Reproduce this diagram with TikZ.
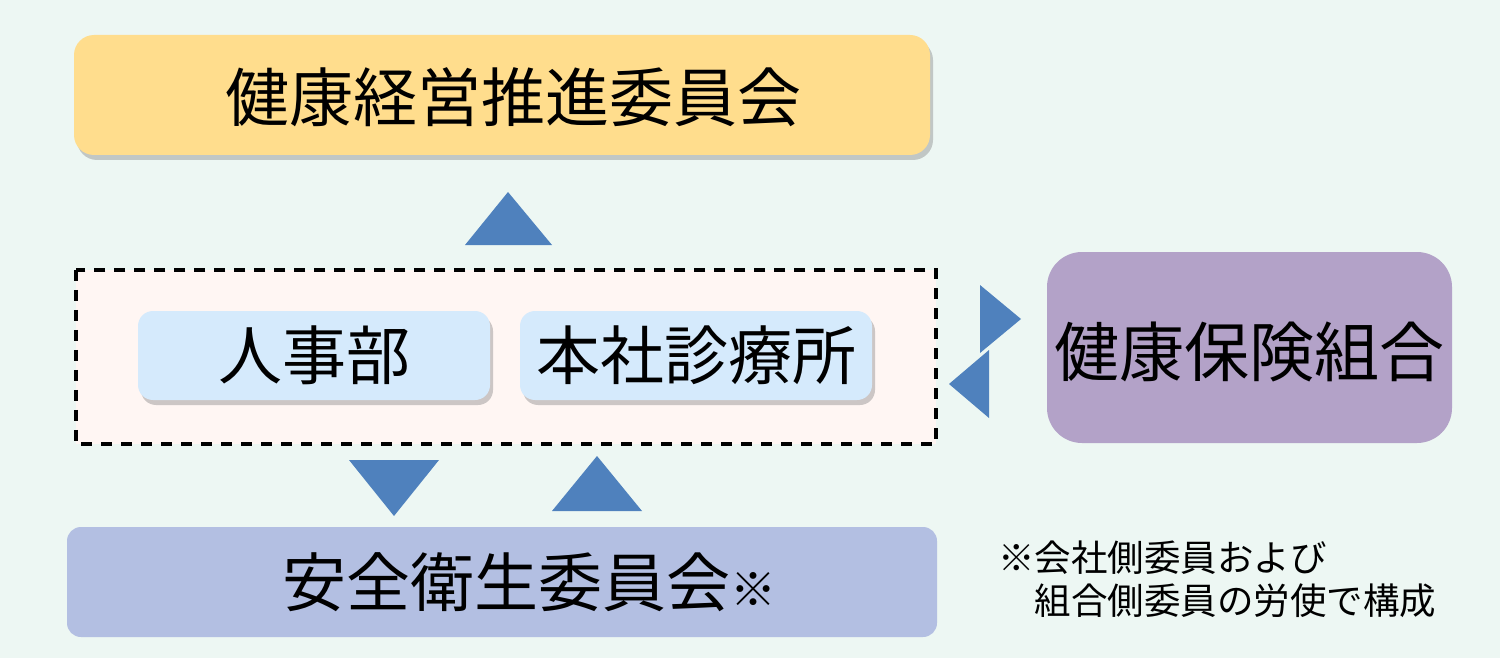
\documentclass[tikz,border=0pt]{standalone}
\usepackage{fontspec}
\newfontfamily\jp{Noto Sans CJK JP}
\usetikzlibrary{shadows}
\definecolor{bg}{HTML}{EDF7F3}
\definecolor{ybox}{HTML}{FFDD8D}
\definecolor{bbox}{HTML}{D5EAFC}
\definecolor{pbox}{HTML}{B3A2C8}
\definecolor{lbox}{HTML}{B3BFE2}
\definecolor{pinkf}{HTML}{FFF6F3}
\definecolor{tri}{HTML}{4F81BD}
\tikzset{
  shad/.style={drop shadow={shadow xshift=3pt,shadow yshift=-5pt,fill=black!50,opacity=0.4}},
  boxstyle/.style={rounded corners=#1,inner sep=0pt},
  big/.style={font=\jp\fontsize{64}{72}\selectfont,inner sep=0pt,text=black},
  note/.style={font=\jp\fontsize{36.5}{43}\selectfont,inner sep=0pt,align=left,text=black},
  arrowtri/.style={fill=tri,draw=none}
}
\begin{document}
\begin{tikzpicture}[x=1pt,y=-1pt]
\fill[bg] (0,0) rectangle (1500,658);
\useasboundingbox (0,0) rectangle (1500,658);
% top box
\node[boxstyle=20pt,fill=ybox,shad,minimum width=856pt,minimum height=120pt] (top) at (502,95) {};
\node[big] (toptext) at (513,97) {健康経営推進委員会};
% up triangle to top
\fill[arrowtri] (465,245) -- (552,245) -- (508,192) -- cycle;
% dashed group
\node[fill=pinkf,minimum width=860pt,minimum height=174pt,inner sep=0pt] (grp) at (506,357) {};
\draw[black,line width=4pt,dash pattern=on 11pt off 9pt] (grp.north west) rectangle (grp.south east);
% inner boxes
\node[boxstyle=15pt,fill=bbox,shad,minimum width=352pt,minimum height=89pt] (jinji) at (314,355.5) {};
\node[big] at (jinji.center) {人事部};
\node[boxstyle=15pt,fill=bbox,shad,minimum width=352pt,minimum height=89pt] (shinryo) at (696,355.5) {};
\node[big] at (shinryo.center) {本社診療所};
% right triangles
\fill[arrowtri] (980,285) -- (1021,319) -- (980,353) -- cycle;
\fill[arrowtri] (989,350) -- (949,384) -- (989,418) -- cycle;
% health insurance union
\node[boxstyle=35pt,fill=pbox,minimum width=405pt,minimum height=191pt] (kenpo) at (1249.5,347.5) {};
\node[font=\jp\fontsize{65}{72}\selectfont,inner sep=0pt] at (1249,352) {健康保険組合};
% bottom triangles
\fill[arrowtri] (349,460) -- (439,460) -- (394,516) -- cycle;
\fill[arrowtri] (552,511) -- (642,511) -- (597,456) -- cycle;
% bottom box
\node[boxstyle=14pt,fill=lbox,minimum width=870pt,minimum height=110pt] (anzen) at (502,582) {};
\node[big] (anzentext) at (506,582) {安全衛生委員会};
\node[font=\jp\fontsize{46}{50}\selectfont,inner sep=0pt,anchor=base west] (kome) at (anzentext.base east) {※};
% note
\node[note,anchor=north west] (notes) at (998,541) {※会社側委員および\\\hspace*{1em}組合側委員の労使で構成};
\end{tikzpicture}
\end{document}
